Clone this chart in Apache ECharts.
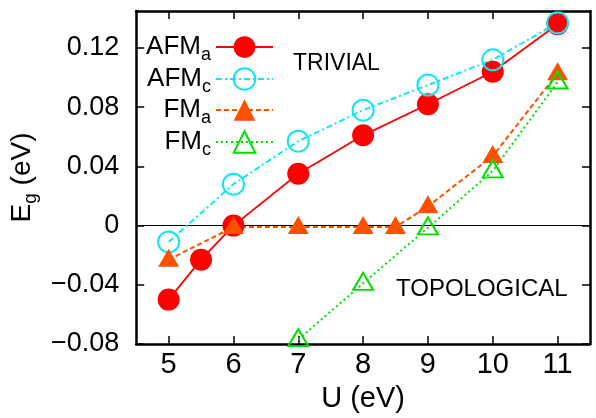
<!DOCTYPE html>
<html>
<head>
<meta charset="utf-8">
<script src="https://cdn.jsdelivr.net/npm/echarts@6/dist/echarts.min.js"></script>
<style>
  html, body { margin: 0; padding: 0; background: #fff; }
  #chart { width: 596px; height: 418px; }
</style>
</head>
<body>
<div id="chart"></div>
<script>
// Tick positions
const uTicks = [5, 6, 7, 8, 9, 10, 11];
const egTicks = [-0.08, -0.04, 0, 0.04, 0.08, 0.12];

// Band gap E_g (eV) versus Hubbard U (eV)
const afmaU = [5, 5.5, 6, 7, 8, 9, 10, 11];
const afmaEg = [-0.050, -0.023, 0.000, 0.035, 0.061, 0.082, 0.104, 0.136];

const afmcU = [5, 6, 7, 8, 9, 10, 11];
const afmcEg = [-0.011, 0.028, 0.057, 0.078, 0.095, 0.112, 0.137];

const fmaU = [5, 6, 7, 8, 8.5, 9, 10, 11];
const fmaEg = [-0.023, -0.001, -0.001, -0.001, -0.001, 0.013, 0.047, 0.103];

const fmcU = [7, 8, 9, 10, 11];
const fmcEg = [-0.077, -0.039, -0.0015, 0.037, 0.097];

const seriesNames = ['AFMa', 'AFMc', 'FMa', 'FMc'];
const seriesLabels = { AFMa: ['AFM', 'a'], AFMc: ['AFM', 'c'], FMa: ['FM', 'a'], FMc: ['FM', 'c'] };

const FONT = "'Liberation Sans', Arial, Helvetica, sans-serif";
const zip = (xs, ys) => xs.map((x, i) => [x, ys[i]]);

const RED = '#ff0000', CYAN = '#10e6ef', ORANGE = '#ff5000', GREEN = '#00e000';

const subRich = {
  m: { fontSize: 26, lineHeight: 34, fontFamily: FONT, color: '#000' },
  s: { fontSize: 18, lineHeight: 18, verticalAlign: 'bottom', fontFamily: FONT, color: '#000' }
};

// One legend per row, icons right-aligned in a column
const legendRows = [51, 83, 114, 146];
const legends = seriesNames.map((name, i) => ({
  data: [name],
  orient: 'vertical',
  align: 'right',
  right: 322,
  top: legendRows[i] - 17,
  padding: 0,
  itemWidth: 57,
  itemHeight: 27,
  selectedMode: false,
  formatter: n => `{m|${seriesLabels[n][0]}}{s|${seriesLabels[n][1]}}`,
  textStyle: { rich: subRich }
}));

const frameAxisLine = { show: true, onZero: false, lineStyle: { color: '#000', width: 2.5 } };
const tickStyle = { inside: true, length: 8, lineStyle: { color: '#000', width: 1.5 } };

const option = {
  animation: false,
  backgroundColor: '#fff',
  grid: { left: 130, right: 6, top: 11, bottom: 69, containLabel: false },
  legend: legends,
  xAxis: [
    {
      type: 'value', min: 4.5, max: 11.5, position: 'bottom',
      axisLine: frameAxisLine,
      axisTick: Object.assign({ customValues: uTicks }, tickStyle),
      axisLabel: { customValues: uTicks, margin: 6, fontSize: 29, color: '#000', fontFamily: FONT },
      splitLine: { show: false },
      name: 'U (eV)', nameLocation: 'middle', nameGap: 40,
      nameTextStyle: { fontSize: 29, color: '#000', fontFamily: FONT }
    },
    {
      type: 'value', min: 4.5, max: 11.5, position: 'top',
      axisLine: frameAxisLine,
      axisTick: Object.assign({ customValues: uTicks }, tickStyle),
      axisLabel: { show: false },
      splitLine: { show: false }
    }
  ],
  yAxis: [
    {
      type: 'value', min: -0.08, max: 0.145, position: 'left',
      axisLine: frameAxisLine,
      axisTick: Object.assign({ customValues: egTicks }, tickStyle),
      axisLabel: {
        customValues: egTicks, margin: 17, fontSize: 27, color: '#000', fontFamily: FONT,
        formatter: v => Math.abs(v) < 1e-9 ? '0' : (v < 0 ? '\u2212' : '') + Math.abs(v).toFixed(2)
      },
      splitLine: { show: false },
      name: '{m|E}{s|g}{m| (eV)}', nameLocation: 'middle', nameGap: 78, nameRotate: 90,
      nameTextStyle: {
        rich: {
          m: { fontSize: 28, lineHeight: 36, fontFamily: FONT, color: '#000' },
          s: { fontSize: 19, lineHeight: 19, verticalAlign: 'bottom', fontFamily: FONT, color: '#000' }
        }
      }
    },
    {
      type: 'value', min: -0.08, max: 0.145, position: 'right',
      axisLine: frameAxisLine,
      axisTick: Object.assign({ customValues: egTicks }, tickStyle),
      axisLabel: { show: false },
      splitLine: { show: false }
    }
  ],
  graphic: [
    { type: 'text', left: 293, top: 52, style: { text: 'TRIVIAL', font: `23px ${FONT}`, fill: '#000' } },
    { type: 'text', left: 396, top: 277, style: { text: 'TOPOLOGICAL', font: `24px ${FONT}`, fill: '#000' } }
  ],
  series: [
    {
      name: 'AFMa', type: 'line', data: zip(afmaU, afmaEg),
      symbol: 'circle', symbolSize: 22,
      itemStyle: { color: RED },
      lineStyle: { color: RED, width: 1.8, type: 'solid' },
      markLine: {
        z: 1, silent: true, symbol: 'none', label: { show: false },
        lineStyle: { color: '#000', width: 1, type: 'solid' },
        data: [{ yAxis: 0 }]
      }
    },
    {
      name: 'AFMc', type: 'line', data: zip(afmcU, afmcEg),
      symbol: 'circle', symbolSize: 21,
      itemStyle: { color: 'rgba(0,0,0,0)', borderColor: CYAN, borderWidth: 2 },
      lineStyle: { color: CYAN, width: 2, type: [6, 3, 2, 3] }
    },
    {
      name: 'FMa', type: 'line', data: zip(fmaU, fmaEg),
      symbol: 'triangle', symbolSize: [21, 18], symbolOffset: [0, -2],
      itemStyle: { color: ORANGE },
      lineStyle: { color: ORANGE, width: 2, type: [5, 3] }
    },
    {
      name: 'FMc', type: 'line', data: zip(fmcU, fmcEg),
      symbol: 'triangle', symbolSize: [20, 17], symbolOffset: [0, -2],
      itemStyle: { color: 'rgba(0,0,0,0)', borderColor: GREEN, borderWidth: 2 },
      lineStyle: { color: GREEN, width: 2, type: [2, 3] }
    }
  ]
};

const chart = echarts.init(document.getElementById('chart'), null, { renderer: 'canvas' });
chart.setOption(option);
</script>
</body>
</html>
